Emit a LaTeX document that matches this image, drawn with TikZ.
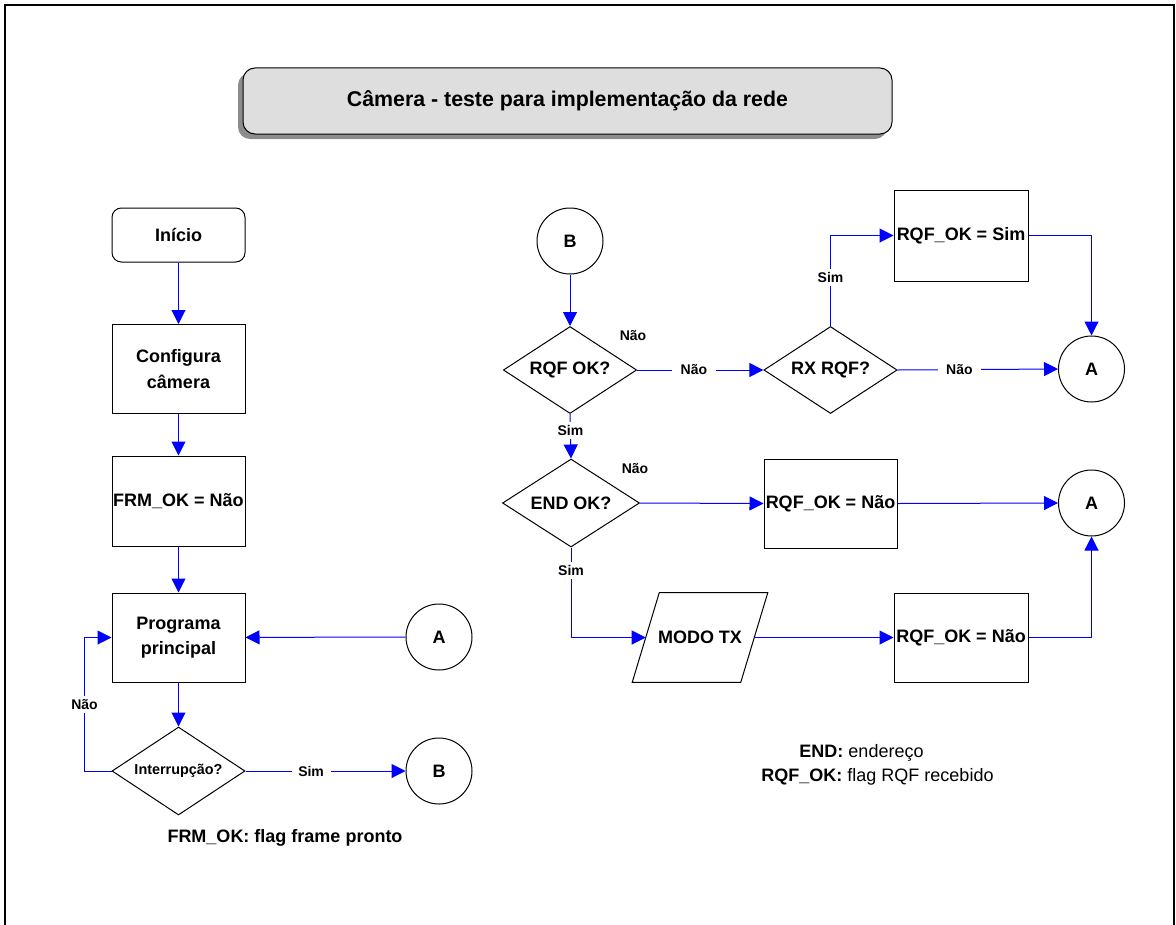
\documentclass[tikz,border=0pt]{standalone}
\usepackage{fontspec}
\setmainfont{Liberation Sans}
\usetikzlibrary{arrows.meta,shapes.geometric,calc}

\definecolor{linkblue}{RGB}{0,0,255}
\definecolor{titlefill}{RGB}{222,222,222}
\definecolor{shadowgray}{RGB}{140,140,140}

\begin{document}
\begin{tikzpicture}[x=0.75pt,y=-0.75pt,
  every node/.style={font=\bfseries\fontsize{13.5}{19}\selectfont, align=center},
  procbox/.style={draw=black, line width=0.75pt, minimum width=99.75pt, minimum height=66.75pt, inner sep=0pt},
  termbox/.style={procbox, rounded corners=7pt, minimum height=40.5pt},
  decision/.style={draw=black, line width=0.75pt, diamond, aspect=1.5, inner sep=0pt, minimum width=100pt, minimum height=65.25pt},
  connector/.style={draw=black, line width=0.75pt, circle, minimum size=49.5pt, inner sep=0pt},
  flow/.style={draw=linkblue, line width=0.75pt, -{Triangle[length=10.5pt,width=10.5pt]}},
  flowlabel/.style={font=\bfseries\fontsize{10.5}{12}\selectfont, fill=white, inner xsep=5pt, inner ysep=2.5pt},
  note/.style={font=\fontsize{13.5}{16}\selectfont}
]
\useasboundingbox (0,0) rectangle (1176,924);

% outer frame
\draw[line width=1.5pt] (5,930) -- (5,5) -- (1174,5) -- (1174,930);

% title banner with drop shadow
\fill[shadowgray, rounded corners=9pt] (238,73) rectangle (887,139);
\node[draw=black, line width=0.75pt, fill=titlefill, rounded corners=9pt,
      minimum width=486.75pt, minimum height=49.5pt, inner sep=0pt,
      font=\bfseries\fontsize{16}{19}\selectfont] (title) at (567.5,101)
      {Câmera - teste para implementação da rede};

% main loop
\node[termbox] (ini) at (178.5,235) {Início};
\node[procbox] (cfg) at (178.5,369) {Configura\\câmera};
\node[procbox, minimum height=67.5pt] (frm) at (178.5,501) {FRM\_OK = Não};
\node[procbox] (prog) at (178.5,637.5) {Programa\\principal};
\node[decision, minimum width=99.75pt, minimum height=66pt,
      font=\bfseries\fontsize{10.8}{13}\selectfont] (intr) at (178.5,771) {Interrupção?};
\node[connector] (aL) at (439,637) {A};
\node[connector] (bL) at (439,771) {B};

\draw[flow] (ini) -- (cfg);
\draw[flow] (cfg) -- (frm);
\draw[flow] (frm) -- (prog);
\draw[flow] (prog) -- (intr);
\draw[flow] (aL) -- (prog);
\draw[flow] (intr.east) -- node[flowlabel, pos=0.41] {Sim} (bL.west);
\draw[flow] (intr.west) -- ++(-27,0) |- node[flowlabel, pos=0.25] {Não} (prog.west);

% receive / address check
\node[connector] (bR) at (570,241) {B};
\node[decision] (rqf) at (570,370) {RQF OK?};
\node[decision] (rx) at (830.5,370) {RX RQF?};
\node[procbox, minimum width=100.5pt, minimum height=68.25pt] (rqfsim) at (961,235.5) {RQF\_OK = Sim};
\node[connector] (aR1) at (1091.5,369) {A};
\node[decision, minimum width=102.75pt, minimum height=66pt] (endq) at (571,503) {END OK?};
\node[procbox] (rqfn1) at (830.5,503.5) {RQF\_OK = Não};
\node[connector] (aR2) at (1091.5,503) {A};
\node[minimum width=81pt, minimum height=66.75pt, inner sep=0pt] (modo) at (700,637.5) {MODO TX};
\draw[line width=0.75pt] ($(modo.south west)+(-13.5,0)$) -- ($(modo.north west)+(13.5,0)$)
  -- ($(modo.north east)+(13.5,0)$) -- ($(modo.south east)+(-13.5,0)$) -- cycle;
\node[procbox, minimum width=100.5pt] (rqfn2) at (961,637.5) {RQF\_OK = Não};

\draw[flow] (bR) -- (rqf);
\draw[flow] (rqf.east) -- node[flowlabel, pos=0.45, inner xsep=6.5pt] {Não} (rx.west);
\draw[flow] (rx.north) |- node[flowlabel, pos=0.27] {Sim} (rqfsim.west);
\draw[flow] (rqfsim.east) -| (aR1.north);
\draw[flow] (rx.east) -- node[flowlabel, pos=0.385, inner xsep=6.5pt] {Não} (aR1.west);
\draw[flow] (rqf.south) -- node[flowlabel, pos=0.37] {Sim} (endq.north);
\draw[flow] (endq.east) -- (rqfn1.west);
\draw[flow] (rqfn1.east) -- (aR2.west);
\draw[flow] (endq.south) |- node[flowlabel, pos=0.13] {Sim} (modo.west);
\draw[flow] (modo.east) -- (rqfn2.west);
\draw[flow] (rqfn2.east) -| (aR2.south);

% loose branch marks
\node[font=\bfseries\fontsize{10.5}{12}\selectfont] (nao1) at (633,336) {Não};
\node[font=\bfseries\fontsize{10.5}{12}\selectfont] (nao2) at (635,469) {Não};

% legends
\node[note] (lg1) at (861.5,753) {\textbf{END:} endereço};
\node[note] (lg2) at (877.5,777) {\textbf{RQF\_OK:} flag RQF recebido};
\node[note] (lg3) at (285,838) {\textbf{FRM\_OK: flag frame pronto}};
\end{tikzpicture}
\end{document}
